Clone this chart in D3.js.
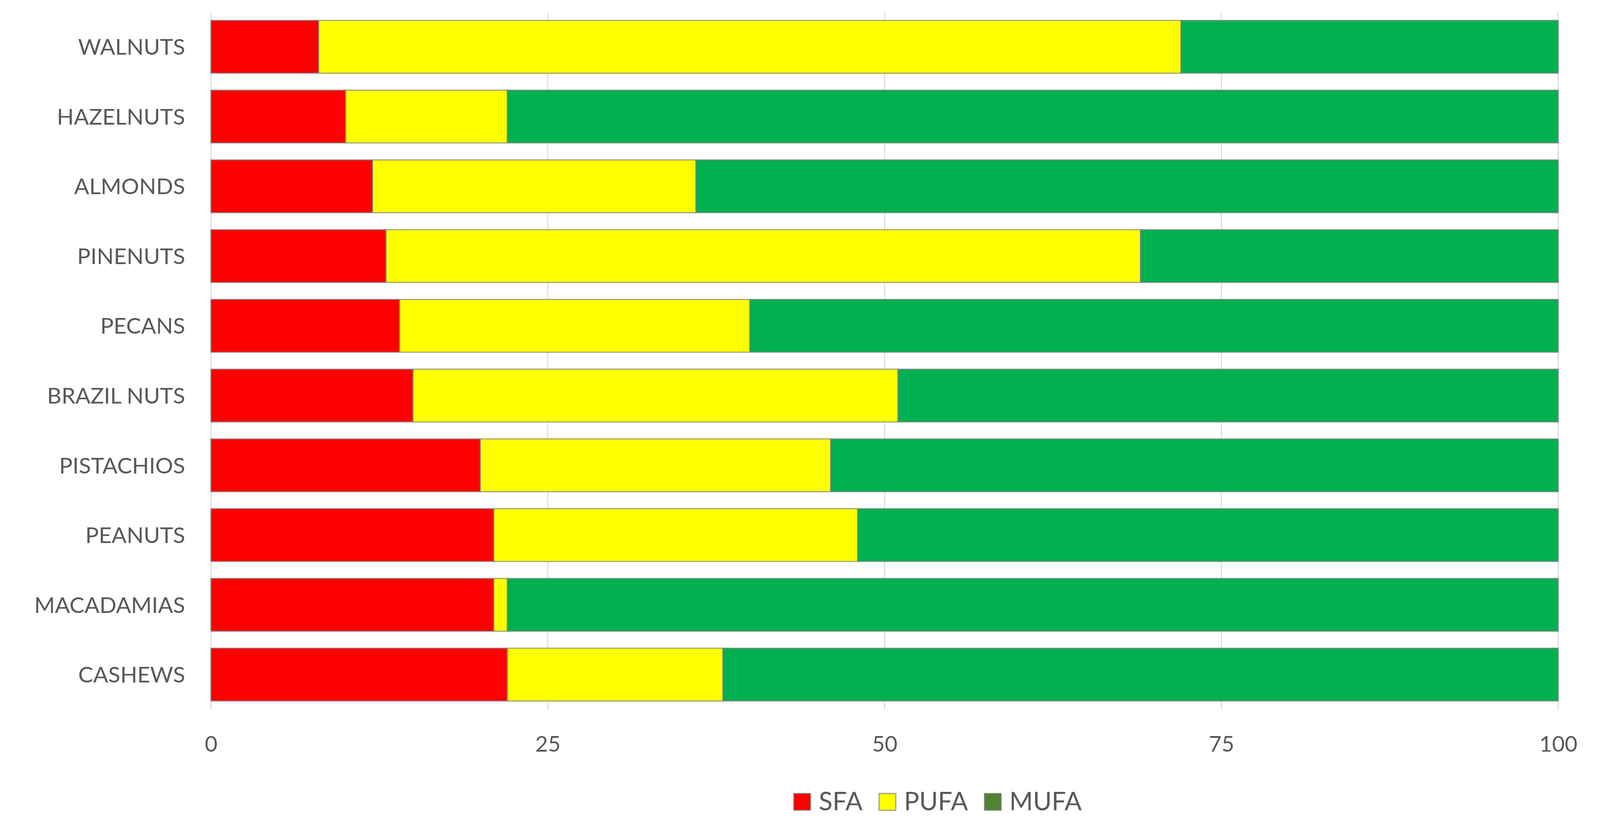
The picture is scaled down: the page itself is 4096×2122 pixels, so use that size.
<!DOCTYPE html>
<html>
<head>
<meta charset="utf-8">
<script src="https://cdn.jsdelivr.net/npm/d3@7"></script>
<style>
  html, body { margin: 0; padding: 0; background: #ffffff; }
  svg { display: block; }
  text { font-family: Lato, "Open Sans", sans-serif; fill: #595959; }
</style>
</head>
<body>
<svg id="chart" width="4096" height="2122"></svg>
<script>
// ---- data ----
const categories = ["WALNUTS", "HAZELNUTS", "ALMONDS", "PINENUTS", "PECANS",
                    "BRAZIL NUTS", "PISTACHIOS", "PEANUTS", "MACADAMIAS", "CASHEWS"];
const seriesNames = ["SFA", "PUFA", "MUFA"];
const sfa  = [8, 10, 12, 13, 14, 15, 20, 21, 21, 22];
const pufa = [64, 12, 24, 56, 26, 36, 26, 27, 1, 16];
const mufa = [28, 78, 64, 31, 60, 49, 54, 52, 78, 62];
const xTicks = [0, 25, 50, 75, 100];

const barColors = ["#FF0000", "#FFFF00", "#00B050"];
const legendColors = ["#FF0000", "#FFFF00", "#548235"];

// ---- layout (window px) ----
const W = 4096, H = 2122;
const plot = { left: 540, right: 3989, top: 30.5, bottom: 1816 };

const svg = d3.select("#chart");

const x = d3.scaleLinear().domain([0, 100]).range([plot.left, plot.right]);
const y = d3.scaleBand().domain(categories).range([plot.top, plot.bottom])
  .paddingInner(0.243).paddingOuter(0.1215);

// gridlines
svg.append("g").selectAll("line").data(xTicks).join("line")
  .attr("x1", d => x(d)).attr("x2", d => x(d))
  .attr("y1", plot.top).attr("y2", plot.bottom)
  .attr("stroke", "#d9d9d9").attr("stroke-width", 2.6);

// stacked data
const rows = categories.map((c, i) => ({ cat: c, SFA: sfa[i], PUFA: pufa[i], MUFA: mufa[i] }));
const stack = d3.stack().keys(seriesNames)(rows);

svg.append("g").selectAll("g").data(stack).join("g")
  .attr("fill", (d, i) => barColors[i])
  .selectAll("rect").data(d => d).join("rect")
  .attr("x", d => x(d[0]))
  .attr("width", d => x(d[1]) - x(d[0]))
  .attr("y", d => y(d.data.cat))
  .attr("height", y.bandwidth())
  .attr("stroke", "rgba(128,128,128,0.75)")
  .attr("stroke-width", 2.8);

// category labels
svg.append("g").selectAll("text").data(categories).join("text")
  .attr("x", plot.left - 66)
  .attr("y", d => y(d) + y.bandwidth() / 2)
  .attr("dy", "0.36em")
  .attr("text-anchor", "end")
  .attr("font-size", 57)
  .text(d => d);

// x axis tick labels
const xAxis = d3.axisBottom(x).tickValues(xTicks).tickSize(0).tickPadding(0);
const ax = svg.append("g").attr("transform", `translate(0, 1924)`).call(xAxis);
ax.select(".domain").remove();
ax.selectAll("text")
  .attr("y", 0).attr("dy", 0)
  .attr("font-size", 56)
  .style("font-family", "Lato, 'Open Sans', sans-serif")
  .attr("fill", "#595959");

// legend
const legend = svg.append("g");
let lx = 2032;
const swSize = 43, swTop = 2031, baseY = 2074;
seriesNames.forEach((name, i) => {
  legend.append("rect")
    .attr("x", lx).attr("y", swTop)
    .attr("width", swSize).attr("height", swSize)
    .attr("fill", legendColors[i])
    .attr("stroke", "rgba(128,128,128,0.75)").attr("stroke-width", 2.8);
  const t = legend.append("text")
    .attr("x", lx + swSize + 21).attr("y", baseY)
    .attr("font-size", 65)
    .text(name);
  const tw = t.node().getComputedTextLength();
  lx = lx + swSize + 21 + tw + 42;
});
</script>
</body>
</html>
